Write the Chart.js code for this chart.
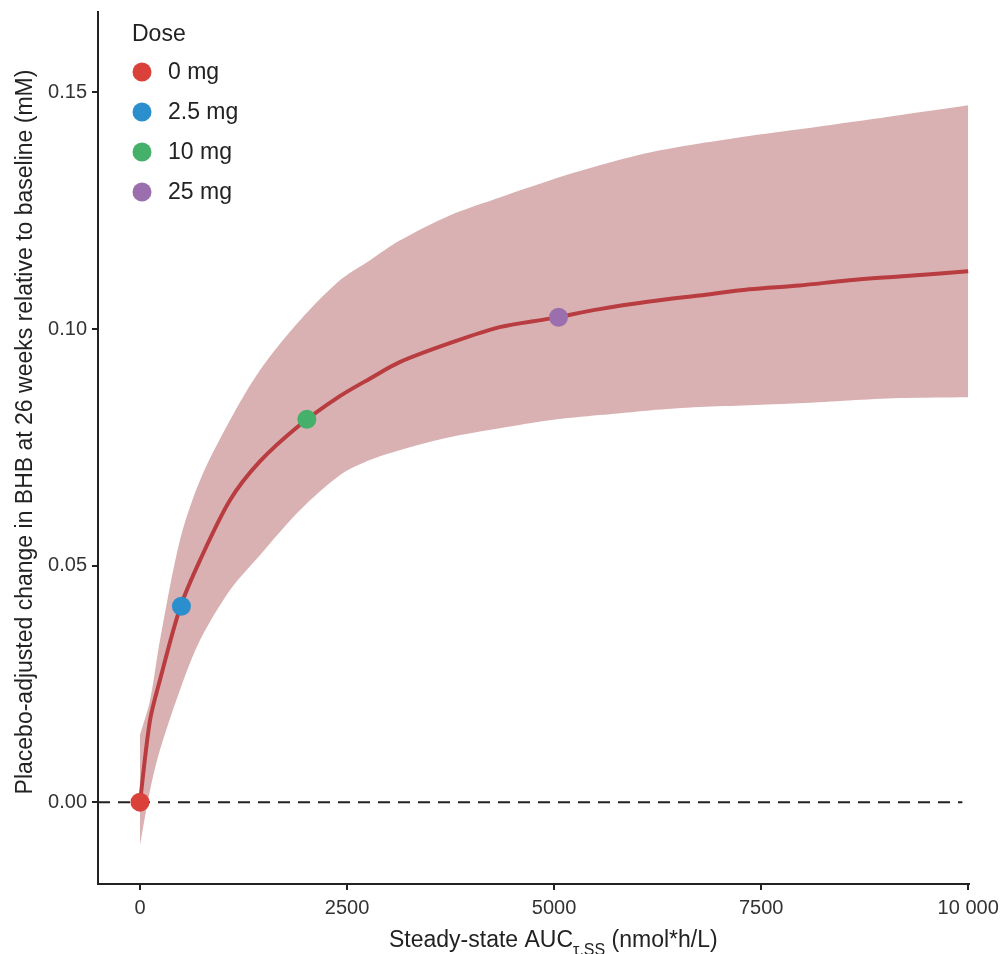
<!DOCTYPE html>
<html><head><meta charset="utf-8">
<script src="https://cdn.jsdelivr.net/npm/chart.js@4"></script>
<style>html,body{margin:0;padding:0;background:#fff;}#wrap{width:1007px;height:954px;}</style>
</head><body><div id="wrap"><canvas id="c" width="1007" height="954"></canvas></div>
<script>
const auc   = [0,121,241,483,724,1086,1448,1930,2413,2774,3136,3739,4343,4946,5549,6152,6755,7358,7961,8565,9168,10000];
const mean  = [0,0.0173,0.0258,0.041,0.0511,0.0638,0.072,0.0797,0.0858,0.0895,0.093,0.097,0.1004,0.1022,0.1042,0.1058,0.1071,0.1084,0.1092,0.1103,0.1111,0.1122];
const upper = [0.0142,0.0215,0.0342,0.0554,0.068,0.0807,0.0913,0.1018,0.1103,0.1145,0.1187,0.124,0.1278,0.1314,0.1346,0.1373,0.1392,0.1408,0.1422,0.1437,0.1452,0.1473];
const lower = [-0.0091,0.0025,0.011,0.0237,0.0342,0.0448,0.0522,0.0617,0.0691,0.0723,0.0744,0.0771,0.079,0.0807,0.0818,0.0828,0.0835,0.0839,0.0843,0.0849,0.0854,0.0856];
const doses = ['0 mg','2.5 mg','10 mg','25 mg'];
const doseAuc = [0,500,2015,5054];
const doseVal = [0,0.0414,0.0809,0.1025];
const doseColors = ['#d9413a','#2a8fcc','#45b06a','#9b6fae'];
const xTicks = [0,2500,5000,7500,10000];
const xTickLabels = ['0','2500','5000','7500','10 000'];
const yTicks = [0,0.05,0.10,0.15];
const yTickLabels = ['0.00','0.05','0.10','0.15'];
const refLine = [-507,9930];
const yTitle = 'Placebo-adjusted change in BHB at 26 weeks relative to baseline (mM)';

const FONT = "'Liberation Sans', Arial, sans-serif";
const pts = (xs, ys) => xs.map((x,i)=>({x:x,y:ys[i]}));

const legendPlugin = {
  id:'doseLegend',
  afterDraw(chart){
    const ctx = chart.ctx;
    ctx.save();
    ctx.fillStyle='#222';
    ctx.font = "23px " + FONT;
    ctx.textBaseline='middle';
    ctx.textAlign='left';
    ctx.fillText('Dose',132,35);
    doses.forEach((d,i)=>{
      const y = 72 + i*40;
      ctx.beginPath();ctx.arc(142,y,9.5,0,Math.PI*2);ctx.fillStyle=doseColors[i];ctx.fill();
      ctx.fillStyle='#222';ctx.fillText(d,168,y+1);
    });
    // y axis title
    ctx.save();
    ctx.translate(25,432);
    ctx.rotate(-Math.PI/2);
    ctx.textAlign='center';
    ctx.font = "23px " + FONT;
    ctx.fillText(yTitle,0,1);
    ctx.restore();
    // x axis title with subscript
    const parts = [['Steady-state AUC',23,0],['\u03c4,SS',16,8],[' (nmol*h/L)',23,0]];
    let x = 389;
    ctx.textBaseline='alphabetic';
    ctx.textAlign='left';
    parts.forEach(p=>{ctx.font=p[1]+'px '+FONT;ctx.fillStyle='#222';ctx.fillText(p[0],x,947+p[2]);x+=ctx.measureText(p[0]).width;});
    ctx.restore();
  }
};

new Chart(document.getElementById('c'),{
  type:'scatter',
  data:{datasets:[
    {label:'upper',data:pts(auc,upper),showLine:true,fill:'+1',backgroundColor:'#dab1b2',borderWidth:0,pointRadius:0,tension:0.3,order:5},
    {label:'lower',data:pts(auc,lower),showLine:true,fill:false,borderWidth:0,pointRadius:0,tension:0.3,order:5},
    {label:'zero',data:pts(refLine,[0,0]),showLine:true,borderColor:'#222',borderWidth:2,borderDash:[12,8],pointRadius:0,order:4},
    {label:'mean',data:pts(auc,mean),showLine:true,borderColor:'#b83c40',borderWidth:4,pointRadius:0,tension:0.3,order:3},
    {label:'dose',data:pts(doseAuc,doseVal),pointRadius:9.5,pointBackgroundColor:doseColors,pointBorderWidth:0,order:1}
  ]},
  options:{
    responsive:false,animation:false,
    layout:{padding:{top:12,right:38,left:0,bottom:0}},
    plugins:{legend:{display:false},tooltip:{enabled:false}},
    scales:{
      x:{type:'linear',min:-507,max:10010,
        afterBuildTicks:s=>{s.ticks=xTicks.map(v=>({value:v}));},
        afterFit:s=>{s.height=70;s.paddingLeft=0;s.paddingRight=0;},
        ticks:{callback:(v)=>xTickLabels[xTicks.indexOf(v)],color:'#333',font:{size:20,family:FONT},padding:6,maxRotation:0},
        grid:{drawOnChartArea:false,drawTicks:true,tickLength:6,color:'#222',lineWidth:2},
        border:{color:'#222',width:2},
        title:{display:false}},
      y:{type:'linear',min:-0.0173,max:0.167,
        afterBuildTicks:s=>{s.ticks=yTicks.map(v=>({value:v}));},
        afterFit:s=>{s.width=98;s.paddingTop=0;s.paddingBottom=0;},
        ticks:{callback:(v)=>yTickLabels[yTicks.findIndex(t=>Math.abs(t-v)<1e-9)],color:'#333',font:{size:20,family:FONT},padding:5},
        grid:{drawOnChartArea:false,drawTicks:true,tickLength:6,color:'#222',lineWidth:2},
        border:{color:'#222',width:2},
        title:{display:false}}
    }
  },
  plugins:[legendPlugin]
});
</script></body></html>
